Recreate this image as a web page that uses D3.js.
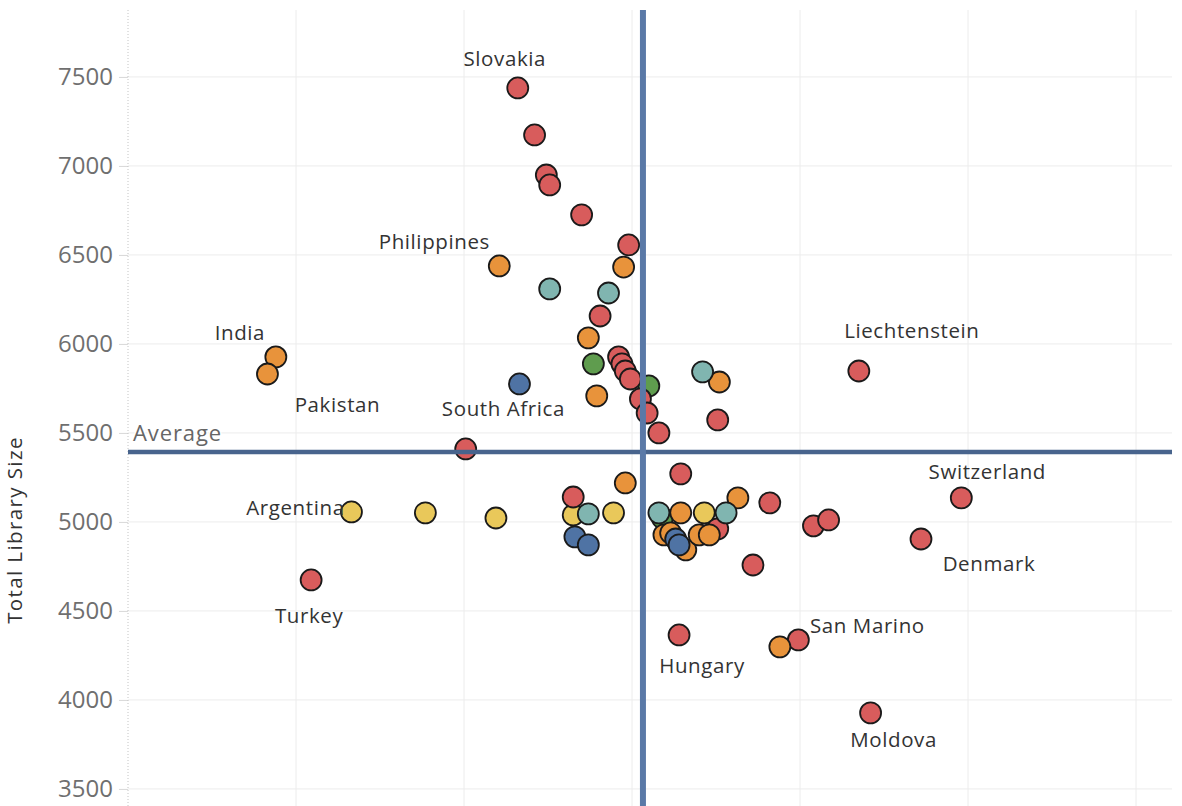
<!DOCTYPE html>
<html lang="en">
<head>
    <meta charset="UTF-8">
    <title>Total Library Size</title>
    <script src="https://cdn.jsdelivr.net/npm/d3@7"></script>
    <style>
        body { margin: 0; background: #fff; }
        svg { display: block; font-family: "Open Sans", "Noto Sans", sans-serif; }
        .grid line { stroke: #ececec; stroke-width: 1; }
        .mark { stroke: #1a1a1a; stroke-width: 1.8; }
        .label { fill: #333; font-size: 20.5px; letter-spacing: 0.6px; }
        .tick-label { fill: #6f6f6f; font-size: 24px; }
    </style>
</head>
<body>
<svg width="1182" height="806"></svg>

<script>
    // [x, total library size, country label]
    const redPoints = [
        [2.32, 7438, "Slovakia"], [2.42, 7174, ""], [2.49, 6949, ""], [2.51, 6893, ""],
        [2.70, 6725, ""], [2.98, 6556, ""], [2.81, 6157, ""], [2.92, 5927, ""],
        [2.94, 5888, ""], [2.96, 5848, ""], [2.99, 5803, ""], [3.05, 5691, ""],
        [3.09, 5612, ""], [3.16, 5500, ""], [3.51, 5573, ""], [4.35, 5848, "Liechtenstein"],
        [2.01, 5410, ""], [3.29, 5270, ""], [2.65, 5140, ""], [3.82, 5107, ""],
        [3.51, 4961, ""], [3.72, 4758, ""], [4.08, 4978, ""], [4.17, 5011, ""],
        [4.96, 5135, "Switzerland"], [4.72, 4904, "Denmark"], [1.09, 4674, "Turkey"],
        [3.28, 4365, "Hungary"], [3.99, 4337, "San Marino"], [4.42, 3927, "Moldova"]
    ];
    const orangePoints = [
        [2.21, 6438, "Philippines"], [2.95, 6432, ""], [2.74, 6034, ""], [2.79, 5708, ""],
        [0.88, 5927, "India"], [0.83, 5831, "Pakistan"], [3.52, 5786, ""], [2.96, 5219, ""],
        [3.63, 5135, ""], [3.29, 5051, ""], [3.19, 4927, ""], [3.23, 4938, ""],
        [3.32, 4843, ""], [3.40, 4927, ""], [3.46, 4927, ""], [3.88, 4298, ""]
    ];
    const yellowPoints = [
        [1.33, 5056, "Argentina"], [1.77, 5051, ""], [2.19, 5022, ""],
        [2.65, 5039, ""], [2.89, 5051, ""], [3.43, 5051, ""]
    ];
    const tealPoints = [
        [2.51, 6309, ""], [2.86, 6286, ""], [3.42, 5843, ""],
        [2.74, 5045, ""], [3.16, 5051, ""], [3.56, 5051, ""]
    ];
    const greenPoints = [[2.77, 5888, ""], [3.10, 5764, ""], [3.18, 5022, ""]];
    const bluePoints = [
        [2.33, 5775, "South Africa"], [2.66, 4916, ""], [2.74, 4871, ""],
        [3.26, 4904, ""], [3.28, 4871, ""]
    ];

    const averageX = 3.065;
    const averageY = 5393;
    const yTicks = [3500, 4000, 4500, 5000, 5500, 6000, 6500, 7000, 7500];
    const xGrid = [1, 2, 3, 4, 5, 6];

    const svg = d3.select("svg");
    const plotLeft = 128, plotRight = 1172, plotTop = 10, plotBottom = 806;

    const x = d3.scaleLinear().domain([0, 6.214]).range([plotLeft, plotRight]);
    const y = d3.scaleLinear().domain([3404, 7876]).range([plotBottom, plotTop]);

    // draw order matters where marks overlap
    const series = [
        {pts: yellowPoints, color: "#e9c85a"},
        {pts: greenPoints, color: "#5f9c4e"},
        {pts: redPoints, color: "#d85c5c"},
        {pts: orangePoints, color: "#e8933b"},
        {pts: tealPoints, color: "#80b5b0"},
        {pts: bluePoints, color: "#4f73a4"}
    ];

    // label offsets from the mark, px
    const labelOffset = {
        "Slovakia": [-13, -30], "Philippines": [-65, -25], "India": [-36, -25],
        "Pakistan": [70, 30], "South Africa": [-16, 24], "Liechtenstein": [53, -41],
        "Argentina": [-56, -5], "Turkey": [-2, 35], "Switzerland": [26, -27],
        "Denmark": [68, 24], "San Marino": [69, -15], "Hungary": [23, 30], "Moldova": [23, 26]
    };

    // grid
    const grid = svg.append("g").attr("class", "grid");
    grid.selectAll(".h").data(yTicks).enter().append("line")
        .attr("x1", plotLeft).attr("x2", plotRight)
        .attr("y1", d => y(d)).attr("y2", d => y(d));
    grid.selectAll(".v").data(xGrid).enter().append("line")
        .attr("x1", d => x(d)).attr("x2", d => x(d))
        .attr("y1", plotTop).attr("y2", plotBottom);

    // y axis
    const yAxis = svg.append("g")
        .attr("transform", `translate(${plotLeft},0)`)
        .call(d3.axisLeft(y).tickValues(yTicks).tickSize(9).tickPadding(6).tickFormat(d3.format("d")));
    yAxis.select(".domain").remove();
    yAxis.selectAll(".tick line").attr("stroke", "#d8d8d8");
    yAxis.attr("font-size", null).attr("font-family", null);
    yAxis.selectAll(".tick text").attr("class", "tick-label").attr("fill", null);

    svg.append("line")
        .attr("x1", plotLeft).attr("x2", plotLeft).attr("y1", plotTop).attr("y2", plotBottom)
        .attr("stroke", "#c4c4c4").attr("stroke-dasharray", "1,2");

    svg.append("text")
        .attr("transform", "translate(14,530) rotate(-90)")
        .attr("text-anchor", "middle").attr("dominant-baseline", "central")
        .attr("fill", "#333").attr("font-size", "20.5px").attr("letter-spacing", "1.4px")
        .text("Total Library Size");

    // marks
    series.forEach(s => {
        svg.append("g").selectAll("circle").data(s.pts).enter().append("circle")
            .attr("class", "mark")
            .attr("cx", d => x(d[0])).attr("cy", d => y(d[1]))
            .attr("r", 10.5).attr("fill", s.color);
    });

    // average reference lines
    svg.append("line")
        .attr("x1", plotLeft).attr("x2", plotRight)
        .attr("y1", y(averageY)).attr("y2", y(averageY))
        .attr("stroke", "#48648d").attr("stroke-width", 4.5);
    svg.append("line")
        .attr("x1", x(averageX)).attr("x2", x(averageX))
        .attr("y1", plotTop).attr("y2", plotBottom)
        .attr("stroke", "#5a79a7").attr("stroke-width", 6);

    svg.append("text")
        .attr("x", plotLeft + 5).attr("y", y(averageY) - 11)
        .attr("fill", "#666").attr("font-size", "22px").attr("letter-spacing", "0.9px")
        .attr("stroke", "#fff").attr("stroke-width", 3).attr("paint-order", "stroke")
        .text("Average");

    // country labels
    const labelled = [].concat(...series.map(s => s.pts)).filter(d => d[2]);
    svg.append("g").selectAll("text").data(labelled).enter().append("text")
        .attr("class", "label")
        .attr("x", d => x(d[0]) + labelOffset[d[2]][0])
        .attr("y", d => y(d[1]) + labelOffset[d[2]][1])
        .attr("text-anchor", "middle").attr("dominant-baseline", "central")
        .text(d => d[2]);
</script>

</body>
</html>
